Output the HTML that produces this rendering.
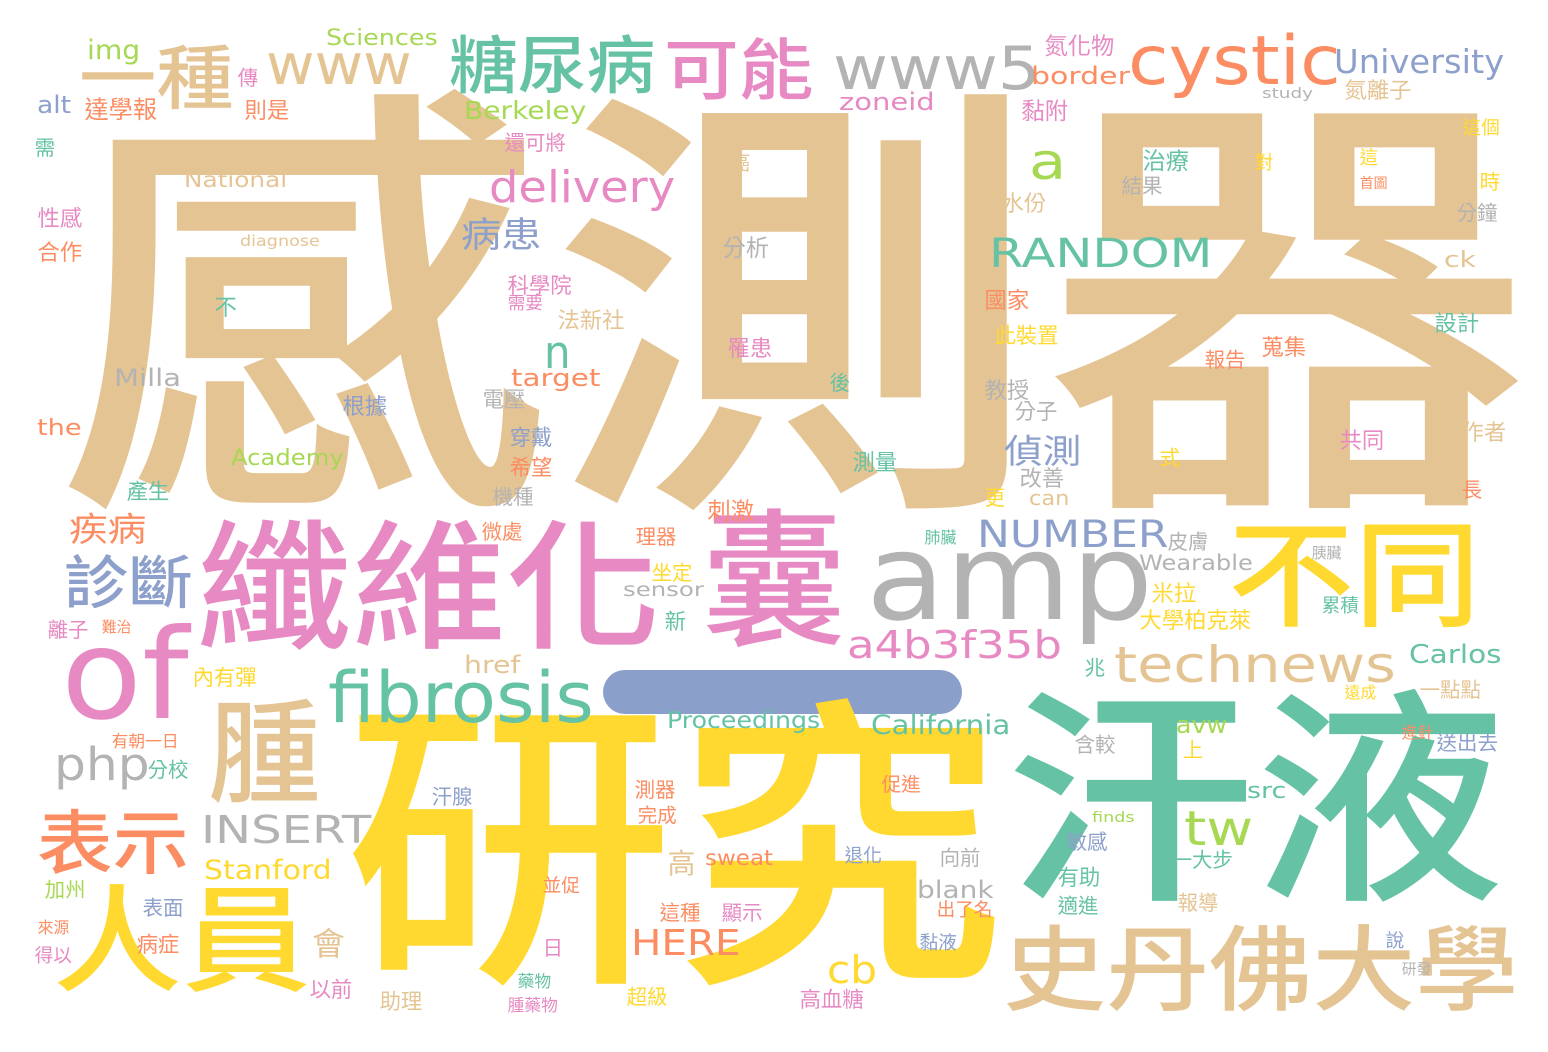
<!DOCTYPE html>
<html><head><meta charset="utf-8">
<style>
html,body{margin:0;padding:0;background:#fff;}
#cloud{position:relative;width:1548px;height:1052px;overflow:hidden;background:#fff;}
.w{position:absolute;white-space:nowrap;line-height:1;font-family:"DejaVu Sans","Noto Sans CJK TC",sans-serif;transform-origin:0 0;}
#bar{position:absolute;left:603px;top:670px;width:359px;height:44px;border-radius:22px;background:#8a9fca;color:transparent;font-size:30px;text-align:center;line-height:44px;font-family:"Noto Sans CJK TC",sans-serif;}
</style></head>
<body>
<div id="cloud">
<div id="bar">一</div>
</div>
<script>
const O='#fc8d62',P='#e78ac3',B='#8da0cb',G='#a6d854',Y='#ffd92f',T='#e5c494',R='#b3b3b3',C='#66c2a5';
// words: text, ink-left, ink-top, font size, color, target width (0 = natural), xheight-only flag
const words=[
['感測器',65,95,480,T,1435,0],
['研究',350,700,330,Y,640,0],
['汗液',1010,690,245,C,485,0],
['纖維化',200,520,150,P,450,0],
['囊',705,510,160,P,140,0],
['amp',870,545,120,R,270,1],
['不同',1230,520,125,Y,245,0],
['of',65,625,125,P,120,0],
['腫',210,700,120,T,110,0],
['fibrosis',330,670,70,C,250,0],
['表示',38,810,75,O,147,0],
['人員',55,885,125,Y,250,0],
['史丹佛大學',1005,925,100,T,500,0],
['糖尿病',450,35,68,C,200,0],
['可能',665,38,72,P,145,0],
['一種',80,45,75,T,150,0],
['www',268,50,56,T,137,1],
['www5',835,45,60,R,195,0],
['cystic',1130,35,68,O,200,0],
['University',1335,48,33,B,160,0],
['delivery',490,170,44,P,175,0],
['a',1030,148,50,G,35,1],
['病患',462,218,38,B,78,0],
['RANDOM',990,238,40,C,210,0],
['n',545,340,45,C,25,1],
['診斷',65,555,62,B,125,0],
['疾病',70,513,36,O,75,0],
['NUMBER',978,520,37,B,180,0],
['a4b3f35b',848,630,38,P,202,0],
['technews',1115,645,50,T,265,0],
['php',55,752,45,R,90,1],
['INSERT',202,815,38,R,160,0],
['tw',1185,810,48,G,65,0],
['cb',828,955,38,Y,47,0],
['HERE',632,930,36,O,103,0],
['偵測',1005,435,36,B,75,0],
['Stanford',205,860,27,Y,120,0],
['California',872,715,27,C,131,0],
['Proceedings',668,712,23,C,144,0],
['Carlos',1410,645,26,C,87,0],
['會',313,930,34,T,32,0],
['Berkeley',465,100,25,G,115,0],
['National',185,172,21,T,97,0],
['Sciences',327,30,22,G,105,0],
['img',88,40,27,G,50,0],
['alt',38,95,24,B,32,0],
['zoneid',840,92,24,P,90,0],
['border',1032,66,24,O,93,0],
['target',512,368,24,O,84,0],
['Milla',115,368,24,R,63,0],
['the',38,420,22,O,42,0],
['Academy',232,450,22,G,106,0],
['href',465,655,24,T,53,0],
['sensor',624,585,19,R,76,1],
['Wearable',1140,555,21,R,107,0],
['sweat',706,850,21,O,64,0],
['blank',918,880,24,R,72,0],
['src',1248,783,22,C,37,0],
['avw',1177,718,24,G,48,1],
['finds',1092,812,14,G,40,0],
['can',1030,492,20,T,38,1],
['study',1262,88,14,R,48,0],
['diagnose',240,235,15,T,75,0],
['ck',1445,252,22,T,30,0],
['氮化物',1045,35,25,P,0,0],['氮離子',1345,80,24,T,0,0],['黏附',1022,100,25,P,0,0],
['傳',238,68,22,P,0,0],['則是',245,100,24,O,0,0],['達學報',85,98,26,O,0,0],
['還可將',505,133,22,P,0,0],['需',35,138,22,C,0,0],['癌',730,153,22,T,0,0],
['治療',1143,150,25,C,0,0],['結果',1122,176,22,R,0,0],['對',1255,155,20,Y,0,0],
['這',1360,150,20,Y,0,0],['首圖',1360,178,15,O,0,0],['這個',1463,120,20,Y,0,0],
['時',1480,172,22,Y,0,0],['分鐘',1457,203,22,R,0,0],['水份',1002,193,24,T,0,0],
['性感',38,208,24,P,0,0],['合作',38,242,24,O,0,0],['分析',723,237,25,R,0,0],
['科學院',508,276,23,P,0,0],['需要',508,296,19,P,0,0],['法新社',558,310,24,T,0,0],
['國家',985,290,24,O,0,0],['不',215,297,24,C,0,0],['罹患',728,338,24,P,0,0],
['此裝置',995,326,23,Y,0,0],['蒐集',1262,337,24,O,0,0],['設計',1435,313,24,C,0,0],
['報告',1205,350,22,O,0,0],['後',830,373,22,C,0,0],['根據',343,396,24,B,0,0],
['電壓',483,390,23,R,0,0],['教授',985,380,24,R,0,0],['分子',1015,402,23,R,0,0],
['穿戴',510,428,23,B,0,0],['共同',1340,430,24,P,0,0],['作者',1462,422,24,T,0,0],
['式',1160,448,22,Y,0,0],['希望',510,458,23,O,0,0],['測量',853,452,24,C,0,0],
['改善',1020,468,24,R,0,0],['產生',127,482,23,C,0,0],['機種',493,487,22,R,0,0],
['更',985,488,22,Y,0,0],['長',1462,480,22,O,0,0],['刺激',708,500,25,O,0,0],
['微處',482,522,22,O,0,0],['理器',636,527,22,O,0,0],['肺臟',925,530,17,C,0,0],
['皮膚',1168,532,22,R,0,0],['胰臟',1312,546,16,R,0,0],['坐定',652,563,22,Y,0,0],
['米拉',1152,583,24,Y,0,0],['離子',48,620,22,P,0,0],['難治',102,620,16,O,0,0],
['新',665,612,23,C,0,0],['大學柏克萊',1140,610,24,Y,0,0],['累積',1322,598,20,C,0,0],
['兆',1085,658,22,C,0,0],['內有彈',193,668,23,Y,0,0],['一點點',1420,680,22,T,0,0],
['遠成',1345,685,17,Y,0,0],['有朝一日',112,733,18,O,0,0],['進針',1402,725,17,O,0,0],
['送出去',1437,733,22,B,0,0],['含較',1075,735,22,R,0,0],['上',1183,740,22,Y,0,0],
['分校',148,760,22,C,0,0],['汗腺',432,787,22,B,0,0],['促進',882,775,21,O,0,0],
['測器',635,780,22,O,0,0],['完成',638,806,21,O,0,0],['敏感',1067,832,22,B,0,0],
['退化',845,848,20,B,0,0],['向前',940,848,22,R,0,0],['一大步',1172,850,22,C,0,0],
['高',668,850,30,T,0,0],['加州',45,880,22,G,0,0],['有助',1058,868,23,C,0,0],
['表面',143,898,22,B,0,0],['並促',543,878,20,O,0,0],['適進',1058,896,22,C,0,0],
['報導',1178,893,22,T,0,0],['這種',660,903,22,O,0,0],['顯示',722,903,22,P,0,0],
['出了名',937,902,20,O,0,0],['來源',38,920,17,O,0,0],['病症',137,935,23,O,0,0],
['說',1386,933,20,B,0,0],['研發',1402,962,16,R,0,0],['黏液',920,935,20,B,0,0],
['得以',35,948,20,P,0,0],['日',543,938,22,P,0,0],['以前',310,980,23,P,0,0],
['助理',380,992,23,T,0,0],['藥物',518,973,18,C,0,0],['超級',627,987,22,Y,0,0],
['高血糖',800,990,23,P,0,0],['腫藥物',508,997,18,P,0,0]
];
const cloud=document.getElementById('cloud');
words.forEach((d,i)=>{
  const el=document.createElement('div');
  el.className='w';
  
  
  el.textContent=d[0];
  const cjk=/[\u3400-\u9fff]/.test(d[0]);
  const s=cjk?d[3]*0.93:d[3];
  el.style.fontSize=s+'px';
  el.style.color=d[4];
  if(cjk && d[3]>=60) el.style.fontWeight='500';
  const off=cjk?0:(d[6]?0.22*s:0.10*s);
  el.style.left=(d[1]-(cjk?0.02*s:0.03*s))+'px';
  el.style.top=(d[2]-off)+'px';
  cloud.appendChild(el);
  if(d[5]>0){
    const w=el.getBoundingClientRect().width;
    const inkW=w*(cjk?0.97:0.94);
    if(inkW>0) el.style.transform='scaleX('+(d[5]/inkW)+')';
  }
});
</script>
</body></html>
